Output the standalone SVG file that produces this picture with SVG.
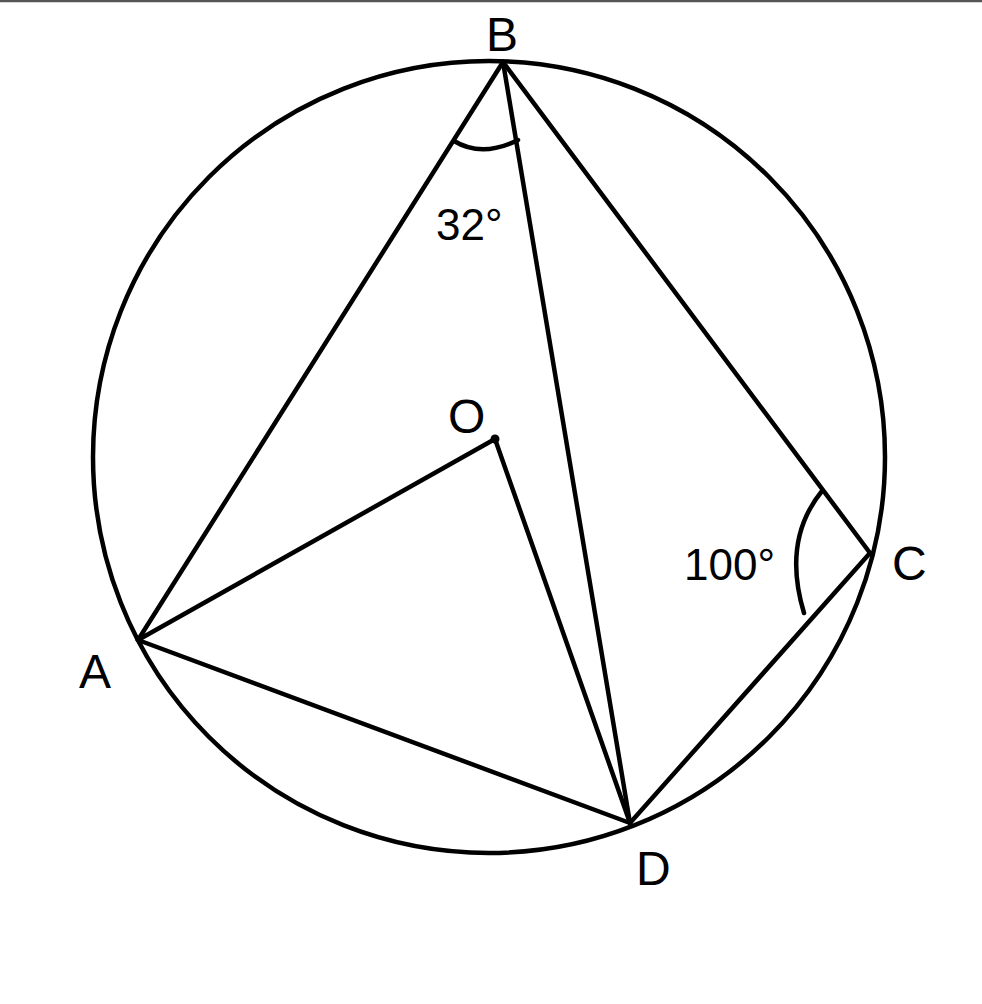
<svg xmlns="http://www.w3.org/2000/svg" width="982" height="1004" viewBox="0 0 982 1004">
<style>
.ln{fill:none;stroke:#000;stroke-width:4.5;stroke-linecap:round;stroke-linejoin:round}
.lb{font-family:"Liberation Sans",Arial,sans-serif;font-size:48px;fill:#000}
.ag{font-family:"Liberation Sans",Arial,sans-serif;font-size:44px;fill:#000}
</style>
<rect x="0" y="0" width="982" height="1004" fill="#fff"/>
<line x1="0" y1="1" x2="982" y2="1" stroke="#555" stroke-width="2.5"/>
<g id="circle"><circle class="ln" cx="489" cy="457" r="396"/></g>
<g id="connectors">
<line class="ln" x1="503" y1="62" x2="138" y2="640"/>
<line class="ln" x1="503" y1="62" x2="630" y2="823"/>
<line class="ln" x1="503" y1="62" x2="870" y2="553"/>
<line class="ln" x1="138" y1="640" x2="495" y2="439"/>
<line class="ln" x1="495" y1="439" x2="630" y2="823"/>
<line class="ln" x1="138" y1="640" x2="630" y2="823"/>
<line class="ln" x1="870" y1="553" x2="630" y2="823"/>
<path class="ln" d="M454 141 Q482 158 518 140"/>
<path class="ln" d="M822 491 Q782 540 804 613"/>
</g>
<g id="O"><circle cx="495" cy="439" r="4.5" fill="#000"/><text class="lb" x="448" y="433">O</text></g>
<g id="B"><text class="lb" x="486" y="51">B</text></g>
<g id="A"><text class="lb" x="79" y="688">A</text></g>
<g id="C"><text class="lb" x="892" y="580">C</text></g>
<g id="D"><text class="lb" x="636" y="885">D</text></g>
<g id="angleB"><text class="ag" x="436" y="240">32°</text></g>
<g id="angleC"><text class="ag" x="684" y="580">100°</text></g>
</svg>
